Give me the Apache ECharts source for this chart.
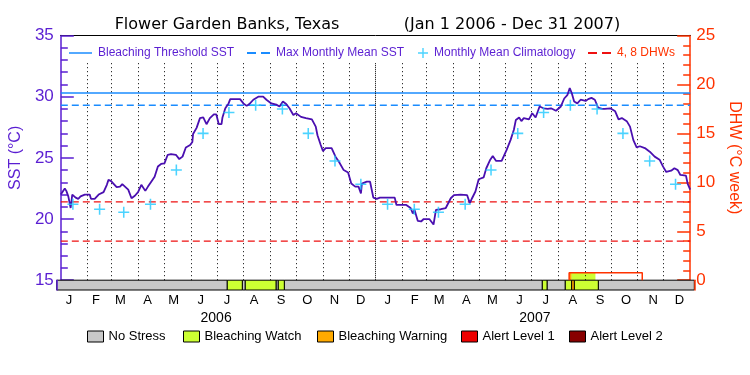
<!DOCTYPE html>
<html><head><meta charset="utf-8">
<script src="https://cdn.jsdelivr.net/npm/echarts@6/dist/echarts.min.js"></script>
<style>html,body{margin:0;padding:0;background:#fff}#c{width:750px;height:375px}</style>
</head><body><div id="c"></div>
<script>
// ---- data (x = days since Jan 1 2006) ----
const sstDays = [0,1.5,4.6,6.4,8.7,11.4,13.3,17.2,20.2,22.9,27.8,33.5,35.0,39.3,43.9,49.6,53.4,55.3,58.4,61.0,64.8,68.7,71.3,74.4,78.2,82.0,85.9,89.6,93.4,95.4,98.0,101.1,104.9,108.8,112.6,116.3,120.2,124.0,127.8,133.5,137.4,141.2,145.0,150.0,152.6,153.4,157.5,161.4,165.2,169.0,172.9,177.5,180.4,183.2,186.4,187.5,190.8,194.6,196.5,207.9,211.8,215.6,219.4,223.3,229.0,234.7,238.5,244.2,249.9,253.7,257.6,261.4,265.2,269.7,272.8,278.6,284.3,291.2,295.7,297.7,301.5,304.1,307.2,314.1,318.6,322.4,328.1,333.2,336.9,341.5,345.3,348.1,349.2,354.9,358.7,362.5,366.4,370.2,
 373.6,387.3,389.3,400.7,405.7,408.3,410.2,414.0,417.9,420.9,427.4,432.3,435.1,440.8,446.5,452.3,456.0,463.7,471.3,474.4,477.0,480.9,484.7,490.4,493.5,498.1,501.0,504.9,511.3,517.1,521.6,525.5,527.8,531.6,534.2,537.0,543.0,546.8,550.7,555.3,559.9,564.8,568.6,574.3,580.0,583.9,587.7,590.3,592.6,595.4,599.1,602.9,608.7,611.7,615.5,619.4,623.2,627.8,630.9,637.3,643.0,646.9,650.7,656.4,660.2,664.1,667.9,671.6,677.4,683.1,688.8,694.5,698.4,702.2,707.9,711.7,715.6,718.6,725.1,727.0,730.0];
const sstValues = [22.0,22.1,22.5,22.3,21.85,20.9,22.0,21.75,21.65,21.85,22.0,22.0,21.65,21.65,22.0,22.2,22.8,23.2,23.1,22.9,22.6,22.65,22.85,22.65,22.4,21.7,21.9,22.2,22.8,22.85,22.3,22.65,23.05,23.45,24.3,24.5,24.55,25.25,25.3,25.25,24.9,25.1,25.85,26.05,26.3,26.95,27.45,28.25,28.3,27.75,28.25,28.55,28.55,27.75,27.75,28.3,29.05,29.45,29.8,29.8,29.45,29.25,29.45,29.75,30.0,30.0,29.75,29.45,29.35,29.2,29.6,29.4,29.05,28.5,28.65,28.35,28.25,28.15,27.55,26.85,26.05,25.55,25.8,25.8,25.1,24.7,24.0,23.8,22.9,22.65,22.65,22.1,22.9,23.05,23.05,21.75,21.65,21.75,
 21.75,21.75,21.15,21.15,20.9,20.45,20.75,19.85,19.8,20.0,20.0,19.55,20.75,20.8,20.9,21.7,21.95,22.0,21.95,21.3,21.7,22.25,23.25,23.4,24.15,24.85,25.15,24.75,24.75,25.65,26.45,27.3,28.1,28.3,28.0,28.25,28.15,28.65,28.3,29.2,29.05,29.0,29.05,28.85,29.2,29.85,30.15,30.7,30.3,29.6,29.45,29.75,29.65,29.8,29.9,29.75,29.1,29.0,29.0,29.05,28.8,28.15,28.25,28.0,27.55,26.45,25.85,25.95,25.8,25.5,25.1,24.85,24.3,23.85,23.95,24.15,24.0,23.6,23.55,22.9,22.4];

const climDays = [14,45,73,104,134,165,195,226,257,287,318,348,379,410,438,469,499,530,560,591,622,652,683,713];
const climValues = [21.2,20.8,20.55,21.2,24.0,27.0,28.7,29.3,29.0,27.0,24.75,22.85,21.2,20.8,20.55,21.2,24.0,27.0,28.7,29.3,29.0,27.0,24.75,22.85];
const bleachingThreshold = 30.3;
const maxMonthlyMean = 29.3;
const dhwLevels = [4, 8];

const monthLabels = ['J','F','M','A','M','J','J','A','S','O','N','D','J','F','M','A','M','J','J','A','S','O','N','D'];
const yearLabels = ['2006','2007'];
const yearMidDays = [182.5, 547.5];

// stress bar segments: start day, end day, level (0 no stress, 1 watch, 2 warning, 3 alert1, 4 alert2)
const stressStart = [0,195.3,212.5,215.9,251.1,253.7,260.6,556.0,561.4,582.3,589.6,592.6,620.1];
const stressEnd   = [195.3,212.5,215.9,251.1,253.7,260.6,556.0,561.4,582.3,589.6,592.6,620.1,730];
const stressLevel = [0,1,0,1,0,1,0,1,0,1,2,1,0];
const stressNames = ['No Stress','Bleaching Watch','Bleaching Warning','Alert Level 1','Alert Level 2'];

// DHW (degree heating weeks)
const dhwFillStart = [589.6, 592.6];
const dhwFillEnd   = [592.6, 620.1];
const dhwFillValue = [0.77, 0.77];
const dhwFillLevel = [2, 1];
const dhwOutlineDays = [589.6, 589.6, 674.4, 674.4];
const dhwOutlineValues = [0, 0.77, 0.77, 0];

// ---- style ----
const PURPLE = '#5a1ed2', LINEC = '#4a0fb0', ORANGE = '#ff3300', BLUE = '#1a8cff', CYAN = '#1ec8ff', RED = '#ee1111';
const stressColors = ['#c8c8c8','#ccff33','#ffaa00','#ee0000','#880000'];
const LIB = 'Liberation Sans', DJ = 'DejaVu Sans';
const dotTop = 32.75;

const DAY = 86400000, T0 = Date.UTC(2006,0,1);
const monthStarts = [];
for (let y = 2006; y <= 2007; y++) for (let m = 0; m < 12; m++) monthStarts.push((Date.UTC(y,m,1) - T0) / DAY);

const pairs = (xs, ys) => xs.map((x, i) => [x, ys[i]]);
const dotLines = monthStarts.filter(d => d > 0).map(d => [
  {coord: [d, 15], lineStyle: {color: '#000', width: 1, type: d === 365 ? [1,1] : [1,3]}},
  {coord: [d, dotTop]}
]);

const stressSeries = stressNames.map((name, lv) => ({
  name, type: 'custom', xAxisIndex: 2, yAxisIndex: 2, z: 3,
  itemStyle: {color: stressColors[lv]},
  data: stressStart.map((s, i) => [s, stressEnd[i], stressLevel[i]]).filter(r => r[2] === lv),
  renderItem: (params, api) => {
    const p0 = api.coord([api.value(0), 1]);
    const p1 = api.coord([api.value(1), 0]);
    return {type: 'rect', shape: {x: p0[0], y: p0[1], width: p1[0] - p0[0], height: p1[1] - p0[1]},
      style: {fill: stressColors[api.value(2)], stroke: '#000', lineWidth: 1}};
  }
}));

const chart = echarts.init(document.getElementById('c'), null, {renderer: 'canvas'});
const lineLegend = (left, name, icon, w, h, color, textColor) => ({
  left, top: 47, padding: 0, itemWidth: w, itemHeight: h, itemGap: 0, selectedMode: false,
  data: [{name, icon, itemStyle: {color, borderWidth: 0}}],
  textStyle: {color: textColor, fontFamily: LIB, fontSize: 12, padding: [0,0,0,1]}
});
const boxLegend = (left, i) => ({
  left, top: 330, padding: 0, itemWidth: 16, itemHeight: 11, selectedMode: false,
  data: [{name: stressNames[i], icon: 'rect', itemStyle: {color: stressColors[i], borderColor: '#000', borderWidth: 1}}],
  textStyle: {color: '#000', fontFamily: LIB, fontSize: 13}
});
const noZero = {onZero: false};

chart.setOption({
  animation: false,
  title: [
    {text: 'Flower Garden Banks, Texas', left: 227, top: 17, textAlign: 'center', padding: 0,
     textStyle: {fontFamily: DJ, fontSize: 16, fontWeight: 'normal', color: '#000'}},
    {text: '(Jan 1 2006 - Dec 31 2007)', left: 512, top: 17, textAlign: 'center', padding: 0,
     textStyle: {fontFamily: DJ, fontSize: 16, fontWeight: 'normal', color: '#000'}}
  ],
  legend: [
    lineLegend(69, 'Bleaching Threshold SST', 'rect', 23, 1.5, BLUE, PURPLE),
    lineLegend(247, 'Max Monthly Mean SST', 'path://M0,0h9v2h-9zM14,0h9v2h-9z', 23, 2, BLUE, PURPLE),
    lineLegend(418, 'Monthly Mean Climatology', 'path://M4.3,0h1.4v10h-1.4zM0,4.3h10v1.4h-10z', 10, 10, CYAN, PURPLE),
    lineLegend(588, '4, 8 DHWs', 'path://M0,0h9v2h-9zM14,0h9v2h-9z', 23, 2, RED, ORANGE),
    boxLegend(87, 0), boxLegend(183, 1), boxLegend(317, 2), boxLegend(461, 3), boxLegend(569, 4)
  ],
  grid: [
    {left: 56.7, right: 55.7, top: 35.5, bottom: 94.8},
    {left: 56.7, right: 55.7, top: 280.2, bottom: 85}
  ],
  xAxis: [
    {gridIndex: 0, type: 'value', min: 0, max: 730, position: 'bottom',
     axisLine: {show: false, onZero: false}, axisTick: {show: false}, axisLabel: {show: false}, splitLine: {show: false}},
    {gridIndex: 0, type: 'value', min: 0, max: 730, position: 'top',
     axisLine: {show: true, onZero: false, lineStyle: {color: '#000', width: 1}}, axisTick: {show: false}, axisLabel: {show: false}, splitLine: {show: false}},
    {gridIndex: 1, type: 'value', min: 0, max: 730, position: 'bottom',
     axisLine: {show: false, onZero: false}, axisTick: {show: false}, splitLine: {show: false},
     axisLabel: {customValues: climDays, margin: 4, color: '#000', fontFamily: LIB, fontSize: 13,
       formatter: v => monthLabels[climDays.indexOf(v)] || ''}},
    {gridIndex: 1, type: 'value', min: 0, max: 730, position: 'bottom', offset: 17,
     axisLine: {show: false, onZero: false}, axisTick: {show: false}, splitLine: {show: false},
     axisLabel: {customValues: yearMidDays, margin: 4, color: '#000', fontFamily: LIB, fontSize: 14,
       formatter: v => yearLabels[yearMidDays.indexOf(v)] || ''}}
  ],
  yAxis: [
    {gridIndex: 0, type: 'value', min: 15, max: 35, interval: 5, position: 'left',
     name: 'SST (°C)', nameLocation: 'middle', nameGap: 35, nameRotate: 90,
     nameTextStyle: {color: PURPLE, fontFamily: LIB, fontSize: 16},
     axisLine: {show: true, onZero: false, lineStyle: {color: PURPLE, width: 1.5}},
     axisTick: {show: true, inside: true, length: 13, lineStyle: {color: PURPLE, width: 1.5}},
     minorTick: {show: true, splitNumber: 5, length: 7, lineStyle: {color: PURPLE, width: 1.5}},
     axisLabel: {color: PURPLE, fontFamily: LIB, fontSize: 17, margin: 7},
     splitLine: {show: false}},
    {gridIndex: 0, type: 'value', min: 0, max: 25, interval: 5, position: 'right',
     name: 'DHW (°C week)', nameLocation: 'middle', nameGap: 31, nameRotate: -90,
     nameTextStyle: {color: ORANGE, fontFamily: LIB, fontSize: 16},
     axisLine: {show: true, onZero: false, lineStyle: {color: ORANGE, width: 1.5}},
     axisTick: {show: true, inside: true, length: 13, lineStyle: {color: ORANGE, width: 1.5}},
     minorTick: {show: true, splitNumber: 5, length: 7, lineStyle: {color: ORANGE, width: 1.5}},
     axisLabel: {color: ORANGE, fontFamily: LIB, fontSize: 17, margin: 6},
     splitLine: {show: false}},
    {gridIndex: 1, type: 'value', min: 0, max: 1, position: 'left', z: 5,
     axisLine: {show: true, onZero: false, lineStyle: {color: PURPLE, width: 1.5}}, axisTick: {show: false}, axisLabel: {show: false}, splitLine: {show: false}},
    {gridIndex: 1, type: 'value', min: 0, max: 1, position: 'right', z: 5,
     axisLine: {show: true, onZero: false, lineStyle: {color: ORANGE, width: 1.5}}, axisTick: {show: false}, axisLabel: {show: false}, splitLine: {show: false}}
  ],
  series: [
    {name: 'Bleaching Threshold SST', type: 'line', xAxisIndex: 0, yAxisIndex: 0, symbol: 'none', z: 2,
     color: BLUE, lineStyle: {color: BLUE, width: 1.3},
     data: [[0, bleachingThreshold], [730, bleachingThreshold]],
     markLine: {silent: true, symbol: 'none', label: {show: false}, data: dotLines}},
    {name: 'Max Monthly Mean SST', type: 'line', xAxisIndex: 0, yAxisIndex: 0, symbol: 'none', z: 2,
     color: BLUE, lineStyle: {color: BLUE, width: 1.3, type: [7,4]},
     data: [[0, maxMonthlyMean], [730, maxMonthlyMean]]},
    {name: '4, 8 DHWs', type: 'line', xAxisIndex: 0, yAxisIndex: 1, symbol: 'none', z: 2,
     color: RED, lineStyle: {color: RED, width: 1.3, type: [7,4]},
     data: [[0, dhwLevels[0]], [730, dhwLevels[0]]]},
    {name: '4, 8 DHWs', type: 'line', xAxisIndex: 0, yAxisIndex: 1, symbol: 'none', z: 2,
     color: RED, lineStyle: {color: RED, width: 1.3, type: [7,4]},
     data: [[0, dhwLevels[1]], [730, dhwLevels[1]]]},
    {type: 'custom', xAxisIndex: 0, yAxisIndex: 1, z: 3,
     data: dhwFillStart.map((s, i) => [s, dhwFillEnd[i], dhwFillValue[i], dhwFillLevel[i]]),
     renderItem: (params, api) => {
       const p0 = api.coord([api.value(0), api.value(2)]);
       const p1 = api.coord([api.value(1), 0]);
       return {type: 'rect', shape: {x: p0[0], y: p0[1], width: p1[0] - p0[0], height: p1[1] - p0[1]},
         style: {fill: stressColors[api.value(3)]}};
     }},
    {type: 'line', xAxisIndex: 0, yAxisIndex: 1, symbol: 'none', z: 4,
     lineStyle: {color: ORANGE, width: 1.5}, data: pairs(dhwOutlineDays, dhwOutlineValues)},
    {name: 'SST', type: 'line', xAxisIndex: 0, yAxisIndex: 0, symbol: 'none', z: 5,
     lineStyle: {color: LINEC, width: 1.8}, data: pairs(sstDays, sstValues)},
    {name: 'Monthly Mean Climatology', type: 'scatter', xAxisIndex: 0, yAxisIndex: 0, z: 6,
     symbol: 'path://M4.3,0h1.4v10h-1.4zM0,4.3h10v1.4h-10z', symbolSize: 11,
     itemStyle: {color: CYAN}, data: pairs(climDays, climValues)},
    ...stressSeries
  ]
});
</script></body></html>
